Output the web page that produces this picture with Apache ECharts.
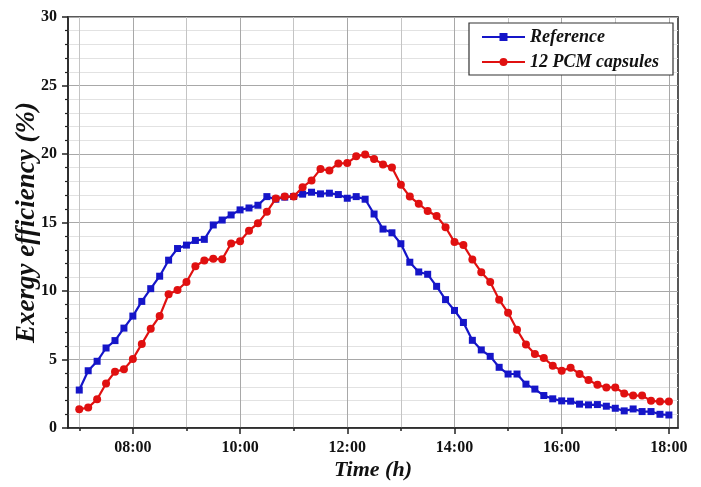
<!DOCTYPE html>
<html>
<head>
<meta charset="utf-8">
<script src="https://cdn.jsdelivr.net/npm/echarts@6/dist/echarts.min.js"></script>
<style>html,body{margin:0;padding:0;background:#fff}#c{width:701px;height:487px}</style>
</head>
<body>
<div id="c"></div>
<script>
// Time of each sample (every 10 minutes, 07:00 to 18:00)
const times = ["07:00","07:10","07:20","07:30","07:40","07:50","08:00","08:10","08:20","08:30","08:40","08:50","09:00","09:10","09:20","09:30","09:40","09:50","10:00","10:10","10:20","10:30","10:40","10:50","11:00","11:10","11:20","11:30","11:40","11:50","12:00","12:10","12:20","12:30","12:40","12:50","13:00","13:10","13:20","13:30","13:40","13:50","14:00","14:10","14:20","14:30","14:40","14:50","15:00","15:10","15:20","15:30","15:40","15:50","16:00","16:10","16:20","16:30","16:40","16:50","17:00","17:10","17:20","17:30","17:40","17:50","18:00"];
const referenceSeries = [2.77,4.18,4.87,5.84,6.38,7.29,8.17,9.24,10.17,11.08,12.25,13.1,13.35,13.69,13.77,14.82,15.18,15.55,15.92,16.06,16.26,16.89,16.7,16.85,16.9,17.07,17.21,17.09,17.14,17.04,16.77,16.89,16.7,15.62,14.52,14.25,13.45,12.1,11.39,11.22,10.34,9.37,8.58,7.7,6.4,5.7,5.23,4.43,3.94,3.94,3.2,2.84,2.37,2.13,1.98,1.96,1.74,1.69,1.71,1.59,1.44,1.25,1.39,1.2,1.2,1.0,0.95];
const pcmSeries = [1.37,1.49,2.1,3.25,4.11,4.28,5.04,6.14,7.24,8.17,9.76,10.07,10.66,11.81,12.23,12.35,12.32,13.47,13.64,14.4,14.94,15.78,16.75,16.89,16.89,17.58,18.07,18.9,18.8,19.31,19.34,19.83,19.97,19.63,19.24,19.02,17.75,16.89,16.36,15.84,15.48,14.65,13.57,13.35,12.3,11.37,10.66,9.37,8.41,7.17,6.09,5.4,5.11,4.55,4.18,4.4,3.94,3.5,3.15,2.96,2.96,2.52,2.37,2.37,1.98,1.93,1.93];
const seriesNames = ["Reference","12 PCM capsules"];
const majorHourTicks = [8,10,12,14,16,18];
const minorHourTicks = [7,9,11,13,15,17];
const yTicks = [0,5,10,15,20,25,30];

function toHour(t){const p=t.split(':');return +p[0]+ +p[1]/60;}
function fmt(h){const hh=Math.round(h);return (hh<10?'0':'')+hh+':00';}
const serif = '"Liberation Serif","DejaVu Serif",serif';
const xMin = 6.79, xMax = 18.17;

const chart = echarts.init(document.getElementById('c'));
chart.setOption({
  animation:false,
  backgroundColor:'#fff',
  grid:{left:68,right:23,top:17,bottom:59,outerBoundsMode:'none',containLabel:false,show:true,borderColor:'#222',borderWidth:1.5,backgroundColor:'transparent'},
  legend:{
    right:28,top:23,orient:'vertical',
    backgroundColor:'#fff',borderColor:'#333',borderWidth:1.2,
    padding:[5,14,4,12],itemGap:7,itemWidth:43,itemHeight:10,
    textStyle:{fontFamily:serif,fontStyle:'italic',fontWeight:'bold',fontSize:18,color:'#111'},
    data:seriesNames
  },
  xAxis:[{
    type:'value',min:xMin,max:xMax,
    name:'Time (h)',nameLocation:'middle',nameGap:31,nameMoveOverlap:false,
    nameTextStyle:{fontFamily:serif,fontStyle:'italic',fontWeight:'bold',fontSize:22,color:'#111',verticalAlign:'top'},
    axisLine:{show:true,onZero:false,lineStyle:{color:'#222',width:1.5}},
    axisTick:{show:true,length:6,customValues:majorHourTicks,lineStyle:{color:'#222',width:1.5}},
    axisLabel:{customValues:majorHourTicks,formatter:fmt,margin:12,fontFamily:serif,fontWeight:'bold',fontSize:16,color:'#111'},
    splitLine:{show:true,lineStyle:{color:'#a8a8a8',width:1}}
  },{
    type:'value',min:xMin,max:xMax,position:'bottom',
    axisLine:{show:false},
    axisTick:{show:true,length:3,customValues:minorHourTicks,lineStyle:{color:'#222',width:1.5}},
    axisLabel:{show:false},
    splitLine:{show:true,lineStyle:{color:'#c4c4c4',width:1}}
  }],
  yAxis:{
    type:'value',min:0,max:30,interval:5,
    name:'Exergy efficiency (%)',nameLocation:'middle',nameGap:27,nameMoveOverlap:false,
    nameTextStyle:{fontFamily:serif,fontStyle:'italic',fontWeight:'bold',fontSize:27,color:'#111'},
    axisLine:{show:true,lineStyle:{color:'#222',width:1.5}},
    axisTick:{show:true,length:6,lineStyle:{color:'#222',width:1.5}},
    minorTick:{show:true,splitNumber:5,length:3,lineStyle:{color:'#222',width:1.2}},
    axisLabel:{margin:11,fontFamily:serif,fontWeight:'bold',fontSize:16,color:'#111',
      formatter:v=>yTicks.indexOf(v)>=0?String(v):''},
    splitLine:{show:true,lineStyle:{color:'#a8a8a8',width:1}},
    minorSplitLine:{show:true,lineStyle:{color:'#e2e2e2',width:1}}
  },
  series:[{
    name:seriesNames[0],type:'line',
    data:times.map((t,i)=>[toHour(t),referenceSeries[i]]),
    symbol:'rect',symbolSize:7,
    lineStyle:{color:'#1515c8',width:2.2},
    itemStyle:{color:'#1515c8'},z:2
  },{
    name:seriesNames[1],type:'line',
    data:times.map((t,i)=>[toHour(t),pcmSeries[i]]),
    symbol:'circle',symbolSize:8,
    lineStyle:{color:'#e01010',width:2.2},
    itemStyle:{color:'#e01010'},z:3
  }]
});
</script>
</body>
</html>
